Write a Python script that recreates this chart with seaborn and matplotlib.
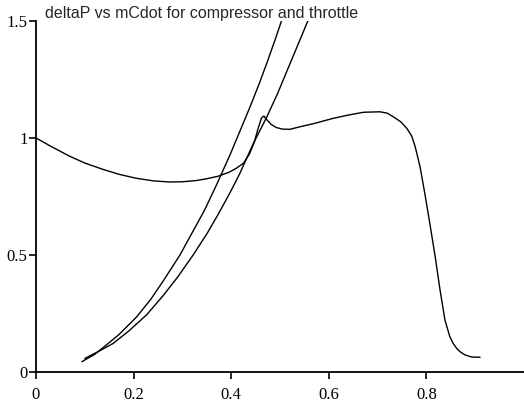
import numpy as np
import pandas as pd
import matplotlib
matplotlib.use("Agg")
import matplotlib.pyplot as plt
import seaborn as sns

# compressor characteristic
comp_x = [0.0, 0.03, 0.068, 0.10, 0.137, 0.17, 0.205, 0.24, 0.273, 0.30, 0.328, 0.35,
          0.372, 0.395, 0.41, 0.425, 0.437, 0.447, 0.455, 0.462, 0.467, 0.473, 0.482,
          0.492, 0.505, 0.52, 0.541, 0.57, 0.609, 0.64, 0.671, 0.705, 0.72, 0.732,
          0.747, 0.760, 0.77, 0.777, 0.787, 0.797, 0.807, 0.818, 0.828, 0.838, 0.848,
          0.855, 0.862, 0.87, 0.879, 0.893, 0.910]
comp_y = [1.0, 0.965, 0.923, 0.893, 0.866, 0.845, 0.828, 0.817, 0.812, 0.813, 0.818, 0.826,
          0.836, 0.853, 0.870, 0.892, 0.93, 0.98, 1.04, 1.085, 1.094, 1.078, 1.058,
          1.045, 1.038, 1.037, 1.048, 1.062, 1.084, 1.098, 1.110, 1.112, 1.106, 1.091,
          1.07, 1.041, 1.008, 0.963, 0.877, 0.76, 0.635, 0.493, 0.350, 0.222, 0.151,
          0.122, 0.101, 0.085, 0.073, 0.064, 0.063]

# throttle lines
thr1_x = [0.094, 0.12, 0.138, 0.17, 0.206, 0.235, 0.261, 0.295, 0.316, 0.345, 0.370,
          0.398, 0.42, 0.439, 0.457, 0.473, 0.49, 0.503]
thr1_y = [0.044, 0.075, 0.105, 0.16, 0.235, 0.31, 0.39, 0.50, 0.58, 0.69, 0.80,
          0.93, 1.04, 1.135, 1.23, 1.32, 1.42, 1.50]

thr2_x = [0.100, 0.13, 0.158, 0.19, 0.227, 0.26, 0.29, 0.322, 0.35, 0.375, 0.401,
          0.418, 0.445, 0.473, 0.495, 0.514, 0.535, 0.557]
thr2_y = [0.058, 0.09, 0.122, 0.175, 0.245, 0.325, 0.405, 0.50, 0.59, 0.68, 0.78,
          0.85, 0.975, 1.09, 1.19, 1.285, 1.39, 1.50]

x_ticks = [0, 0.2, 0.4, 0.6, 0.8]
x_labels = ["0", "0.2", "0.4", "0.6", "0.8"]
y_ticks = [0, 0.5, 1, 1.5]
y_labels = ["0", "0.5", "1", "1.5"]

title = "deltaP vs mCdot for compressor and throttle"

sns.set_style("ticks")

fig = plt.figure(figsize=(5.24, 4.05), dpi=100)
ax = fig.add_axes([36 / 524, 1 - 372 / 405, 1 - 36 / 524, (372 - 21) / 405])

for xs, ys in [(comp_x, comp_y), (thr1_x, thr1_y), (thr2_x, thr2_y)]:
    df = pd.DataFrame({"x": xs, "y": ys})
    sns.lineplot(data=df, x="x", y="y", ax=ax, color="black", linewidth=1.0,
                 estimator=None, sort=False)

ax.set_xlim(0, 1.0)
ax.set_ylim(0, 1.5)
ax.set_xticks(x_ticks)
ax.set_xticklabels(x_labels, family="Liberation Serif", fontsize=12)
ax.set_yticks(y_ticks)
ax.set_yticklabels(y_labels, family="Liberation Serif", fontsize=12)
ax.tick_params(axis="x", direction="out", length=5, width=1.2, pad=6, colors="black")
ax.tick_params(axis="y", direction="out", length=5, width=1.2, pad=1, colors="black")
ax.set_xlabel("")
ax.set_ylabel("")

sns.despine(ax=ax)
for side in ["left", "bottom"]:
    ax.spines[side].set_linewidth(1.3)
    ax.spines[side].set_color("black")

fig.text(45 / 524, 1 - 18 / 405, title, family="Liberation Sans", fontsize=11.5,
         va="baseline", ha="left")

fig.savefig("out.png", dpi=100)
